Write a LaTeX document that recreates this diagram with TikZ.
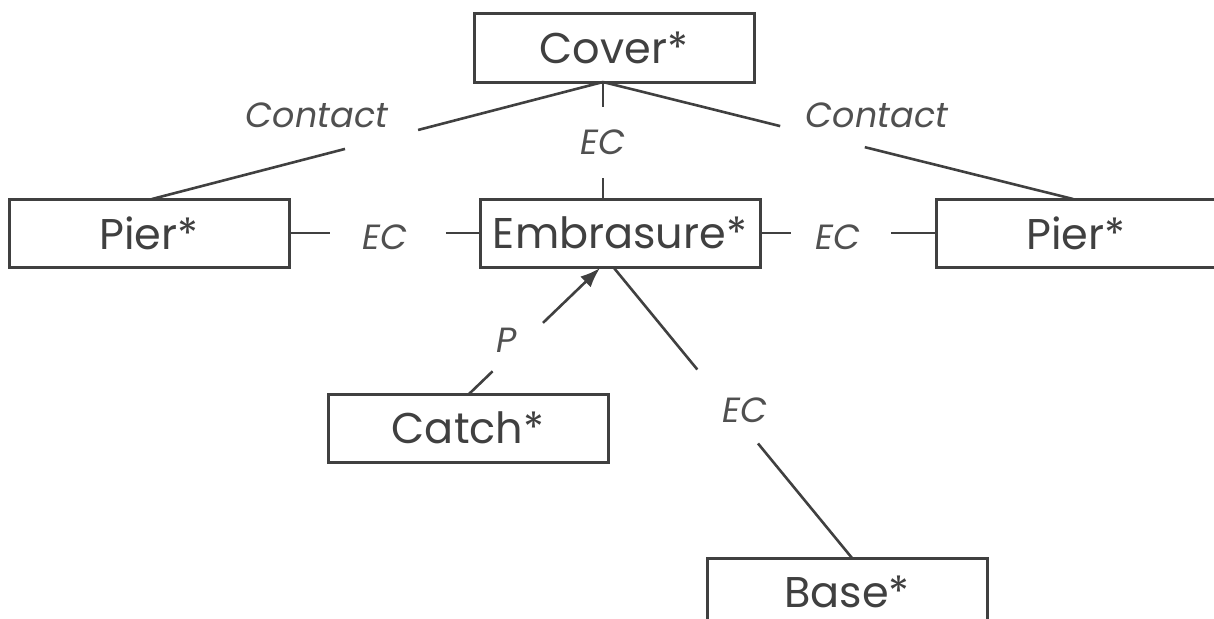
\documentclass[tikz,border=0pt]{standalone}
\usepackage{fontspec}
\setmainfont{Poppins}
\usetikzlibrary{calc,arrows.meta}
\definecolor{ink}{HTML}{404040}
\definecolor{labc}{HTML}{505050}
\tikzset{
  box/.style={draw=ink,line width=3pt,minimum width=280pt,minimum height=68pt,inner sep=0pt,
    text=ink,font=\fontsize{43}{48}\selectfont},
  lab/.style={text=labc,font=\fontsize{35}{40}\selectfont\itshape,inner sep=0pt},
  conn/.style={draw=ink,line width=2.6pt},
}
\begin{document}
\begin{tikzpicture}[x=1pt,y=-1pt]
\useasboundingbox (0,0) rectangle (1214,618);
% boxes
\node[box] (cover) at (614,48) {Cover*};
\node[box] (pierL) at (149,233) {Pier*};
\node[box] (emb) at (620,233) {Embrasure*};
\node[box] (pierR) at (1076,233) {Pier*};
\node[box] (catch) at (468,428) {Catch*};
\node[box] (base) at (847,592) {Base*};
% labels
\node[lab] (lc1) at (317,115) {Contact};
\node[lab] (lc2) at (877,115) {Contact};
\node[lab] (lec1) at (603,142) {EC};
\node[lab] (lec2) at (385,237) {EC};
\node[lab] (lec3) at (838,237) {EC};
\node[lab] (lp) at (507,340) {P};
\node[lab] (lec4) at (745,410) {EC};
% anchor points
\coordinate (ct) at (603,82);
\coordinate (plt) at (152,199);
\coordinate (prt) at (1073,199);
\coordinate (et) at (603,199);
\coordinate (cs) at (469,394);
\coordinate (eb) at (600,268);
\coordinate (eb2) at (614,268);
\coordinate (bt) at (852,558);
% connectors
\draw[conn] (ct) -- ($(ct)!0.41!(plt)$);
\draw[conn] ($(ct)!0.572!(plt)$) -- (plt);
\draw[conn] (ct) -- ($(ct)!0.377!(prt)$);
\draw[conn] ($(ct)!0.557!(prt)$) -- (prt);
\draw[conn] (ct) -- ($(ct)!0.214!(et)$);
\draw[conn] ($(ct)!0.821!(et)$) -- (et);
\draw[conn] (pierL.east) -- ($(pierL.east)!0.21!(emb.west)$);
\draw[conn] ($(pierL.east)!0.826!(emb.west)$) -- (emb.west);
\draw[conn] (emb.east) -- ($(emb.east)!0.17!(pierR.west)$);
\draw[conn] ($(emb.east)!0.75!(pierR.west)$) -- (pierR.west);
\draw[conn] (cs) -- ($(cs)!0.18!(eb)$);
\draw[conn,-{Latex[length=20pt,width=15pt]}] ($(cs)!0.565!(eb)$) -- (eb);
\draw[conn] (eb2) -- ($(eb2)!0.35!(bt)$);
\draw[conn] ($(eb2)!0.605!(bt)$) -- (bt);
\end{tikzpicture}
\end{document}
